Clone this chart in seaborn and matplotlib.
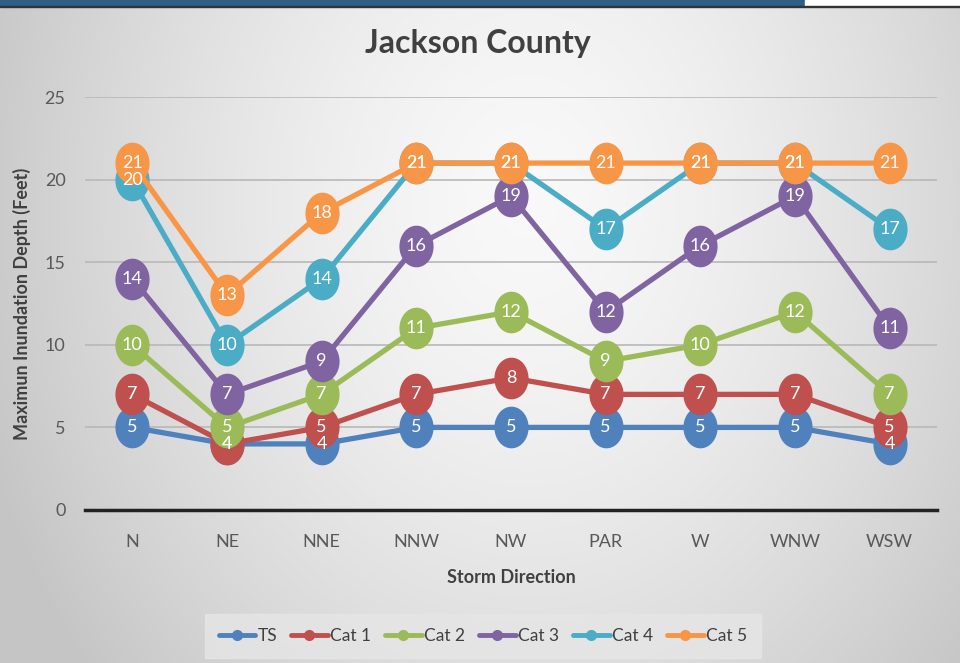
import numpy as np
import pandas as pd
import matplotlib
matplotlib.use("Agg")
import matplotlib.pyplot as plt
import seaborn as sns
from matplotlib.patches import Rectangle
from matplotlib.path import Path
from matplotlib.lines import Line2D

directions = ["N", "NE", "NNE", "NNW", "NW", "PAR", "W", "WNW", "WSW"]
series_names = ["TS", "Cat 1", "Cat 2", "Cat 3", "Cat 4", "Cat 5"]
ts = [5, 4, 4, 5, 5, 5, 5, 5, 4]
cat1 = [7, 4, 5, 7, 8, 7, 7, 7, 5]
cat2 = [10, 5, 7, 11, 12, 9, 10, 12, 7]
cat3 = [14, 7, 9, 16, 19, 12, 16, 19, 11]
cat4 = [20, 10, 14, 21, 21, 17, 21, 21, 17]
cat5 = [21, 13, 18, 21, 21, 21, 21, 21, 21]
colors = ["#4F81BD", "#C0504D", "#9BBB59", "#8064A2", "#4BACC6", "#F79646"]

values = [ts, cat1, cat2, cat3, cat4, cat5]
rows = []
for name, vals in zip(series_names, values):
    for d, v in zip(directions, vals):
        rows.append({"Storm Direction": d, "Depth": v, "Series": name})
df = pd.DataFrame(rows)

sns.set_theme(style="white")
FONT = ["Lato", "DejaVu Sans"]
plt.rcParams["font.family"] = FONT

fig = plt.figure(figsize=(9.6, 6.63), dpi=100)

# background gradient
bg = fig.add_axes([0, 0, 1, 1], zorder=-10)
xx = np.linspace(0, 1, 400)
yy = np.linspace(0, 1, 300)
X, Y = np.meshgrid(xx, yy)
d = np.sqrt(((X - 0.55) / 0.6) ** 2 + ((Y - 0.3) / 1.1) ** 2)
shade = 0.975 - 0.2 * np.clip(d, 0, 1.0) ** 1.5
img = np.dstack([shade, shade, shade])
bg.imshow(img, extent=[0, 1, 0, 1], aspect="auto", origin="upper")
bg.set_xlim(0, 1); bg.set_ylim(0, 1); bg.axis("off")
bg.add_patch(Rectangle((0, 1 - 6 / 663), 805 / 960, 6 / 663, color="#2f5f86"))
bg.add_patch(Rectangle((805 / 960, 1 - 6 / 663), 155 / 960, 6 / 663, color="white"))
bg.add_patch(Rectangle((0, 1 - 7 / 663), 1, 1.5 / 663, color="#333333"))

# vertically stretched ellipse marker
t = np.linspace(0, 2 * np.pi, 60)
ellipse = Path(np.column_stack([0.82 * np.cos(t), np.sin(t)]), closed=True)

ax = fig.add_axes([85 / 960, 1 - 510 / 663, 852 / 960, 413 / 663])
ax.set_facecolor("none")

sns.lineplot(data=df, x="Storm Direction", y="Depth", hue="Series",
             hue_order=series_names, palette=colors, sort=False,
             linewidth=3.8, marker=ellipse, markersize=30, markeredgewidth=0,
             ax=ax, legend=False, zorder=3)

for name, vals, c in zip(series_names, values, colors):
    for i, v in enumerate(vals):
        ax.text(i, v, str(v), color="white", ha="center", va="center",
                fontsize=13, zorder=10, family=FONT)

ax.set_xlim(-0.5, 8.5)
ax.set_ylim(0, 25)
ax.set_yticks([0, 5, 10, 15, 20, 25])
ax.grid(axis="y", color="#b8b8b8", linewidth=1.2, zorder=0)
ax.grid(axis="x", visible=False)
ax.set_axisbelow(True)
for s in ["top", "right", "left"]:
    ax.spines[s].set_visible(False)
ax.spines["bottom"].set_color("#222222")
ax.spines["bottom"].set_linewidth(2.5)
ax.tick_params(axis="y", length=0, labelsize=13, colors="#595959", pad=14)
ax.tick_params(axis="x", length=0, labelsize=13, colors="#595959", pad=17)

ax.set_xlabel("Storm Direction", fontsize=13, fontweight="bold", color="#404040",
              labelpad=14)
ax.set_ylabel("Maximun Inundation Depth (Feet)", fontsize=13, fontweight="bold",
              color="#404040", labelpad=10)

fig.text(478 / 960, 1 - 43 / 663, "Jackson County", ha="center", va="center",
         fontsize=23, fontweight="bold", color="#404040")

handles = [Line2D([0], [0], color=c, linewidth=3.5, marker="o", markersize=7) for c in colors]
leg = fig.legend(handles, series_names, loc="center", bbox_to_anchor=(483 / 960, 1 - 636 / 663),
                 ncol=6, frameon=True, handlelength=2.1, columnspacing=0.8,
                 handletextpad=0.15, borderpad=0.5, prop={"size": 12.5})
leg.get_frame().set_facecolor("#e6e6e6")
leg.get_frame().set_edgecolor("#e6e6e6")
leg.get_frame().set_boxstyle("square")
for tx in leg.get_texts():
    tx.set_color("#404040")

fig.savefig("out.png", dpi=100)
